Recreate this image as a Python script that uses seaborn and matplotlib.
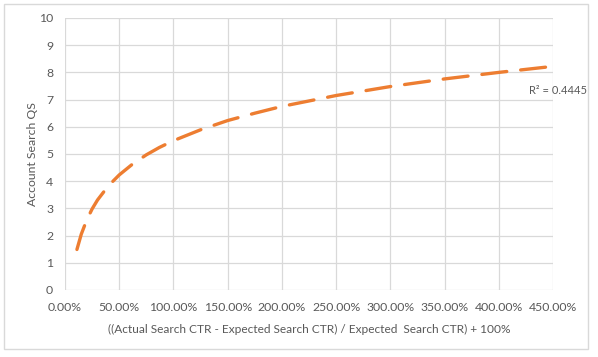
import numpy as np
import pandas as pd
import matplotlib
matplotlib.use("Agg")
import matplotlib.pyplot as plt
import seaborn as sns

# trendline points (x as ratio, 1.0 = 100%)
ctr_ratio = [0.11, 0.15, 0.20, 0.25, 0.30, 0.40, 0.50, 0.62, 0.75, 0.87, 1.00, 1.25,
             1.50, 1.75, 2.00, 2.50, 3.00, 3.50, 4.00, 4.45]
account_qs = [1.49, 2.05, 2.57, 2.98, 3.31, 3.83, 4.23, 4.62, 4.97, 5.24, 5.49, 5.89,
              6.23, 6.50, 6.75, 7.15, 7.48, 7.76, 8.00, 8.20]
x_ticks = [0, 0.5, 1.0, 1.5, 2.0, 2.5, 3.0, 3.5, 4.0, 4.5]
y_ticks = list(range(0, 11))
r2_label = "R² = 0.4445"

df = pd.DataFrame({"ratio": ctr_ratio, "qs": account_qs})

sns.set_style("white")
plt.rcParams["font.family"] = ["Lato", "DejaVu Sans"]

gray_txt = "#595959"
grid_col = "#D9D9D9"

fig = plt.figure(figsize=(5.98, 3.57), dpi=100)
ax = fig.add_axes([65 / 598, 1 - 290 / 357, (553 - 65) / 598, (290 - 18) / 357])

sns.lineplot(data=df, x="ratio", y="qs", ax=ax, color="#ED7D31", linewidth=2.4)
line = ax.lines[-1]
line.set_dashes((7.5, 4.2))
line.set_dash_capstyle("round")

ax.set_xlim(0, 4.5)
ax.set_ylim(0, 10)
ax.set_xticks(x_ticks)
ax.set_xticklabels([f"{v * 100:.2f}%" for v in x_ticks])
ax.set_yticks(y_ticks)
ax.grid(True, color=grid_col, linewidth=0.9)
ax.set_axisbelow(True)
for s in ax.spines.values():
    s.set_visible(False)
ax.tick_params(length=0, labelsize=8.8, colors=gray_txt, pad=8.5)

ax.set_xlabel("((Actual Search CTR - Expected Search CTR) / Expected  Search CTR) + 100%",
              fontsize=8.6, color=gray_txt, labelpad=8)
ax.set_ylabel("Account Search QS", fontsize=8.8, color=gray_txt, labelpad=1)

ax.text(1.010, 0.735, r2_label, transform=ax.transAxes, ha="center", va="center",
        fontsize=8, color=gray_txt, clip_on=False)

# outer chart border
fig.patches.append(plt.Rectangle((4 / 598, 1 - 349 / 357), 584 / 598, 345 / 357,
                                 transform=fig.transFigure, fill=False,
                                 edgecolor=grid_col, linewidth=1))

fig.savefig("out.png", dpi=100)
